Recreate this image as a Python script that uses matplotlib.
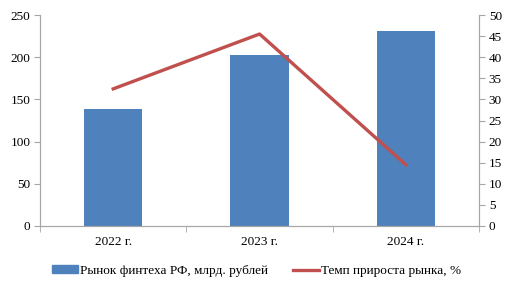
import numpy as np
import matplotlib.pyplot as plt
from matplotlib.patches import Patch
from matplotlib.lines import Line2D

plt.rcParams['font.family'] = ['Liberation Serif', 'DejaVu Serif']

years = ["2022 г.", "2023 г.", "2024 г."]
market = [139, 203, 231]
growth = [32.5, 45.5, 14.5]

bar_color = "#4f81bd"
line_color = "#c0504d"
grey = "#a6a6a6"

fig = plt.figure(figsize=(5.13, 2.89), dpi=100)
ax = fig.add_axes([0.078, 0.218, 0.856, 0.730])
x = np.arange(len(years))
ax.bar(x, market, width=0.4, color=bar_color, zorder=2)
ax.set_xlim(-0.5, len(years) - 0.5)
ax.set_ylim(0, 250)
ax.set_yticks(range(0, 251, 50))
ax.set_xticks(x)
ax.set_xticklabels(years, fontsize=9.5)
ax.set_xticks(np.arange(-0.5, len(years)), minor=True)
ax.tick_params(axis='x', which='major', length=0, pad=7)
ax.tick_params(axis='x', which='minor', length=4, color=grey, direction='out')
ax.tick_params(axis='y', length=4, color=grey, labelsize=9.5, pad=3)
ax.spines['top'].set_visible(False)
for s in ['left', 'bottom', 'right']:
    ax.spines[s].set_color(grey)

ax2 = ax.twinx()
ax2.plot(x, growth, color=line_color, linewidth=2.4, zorder=3)
ax2.set_ylim(0, 50)
ax2.set_yticks(range(0, 51, 5))
ax2.tick_params(axis='y', length=4, color=grey, labelsize=9.5, pad=3)
ax2.spines['top'].set_visible(False)
for s in ['left', 'bottom', 'right']:
    ax2.spines[s].set_color(grey)

handles = [Patch(color=bar_color), Line2D([0], [0], color=line_color, linewidth=2.4)]
labels = ["Рынок финтеха РФ, млрд. рублей", "Темп прироста рынка, %"]
fig.legend(handles, labels, loc='center', bbox_to_anchor=(0.5, 0.062), ncol=2,
           frameon=False, fontsize=9.5, handlelength=2.0, handletextpad=0.15,
           columnspacing=1.9, handleheight=0.55)

fig.savefig("out.png", dpi=100)
